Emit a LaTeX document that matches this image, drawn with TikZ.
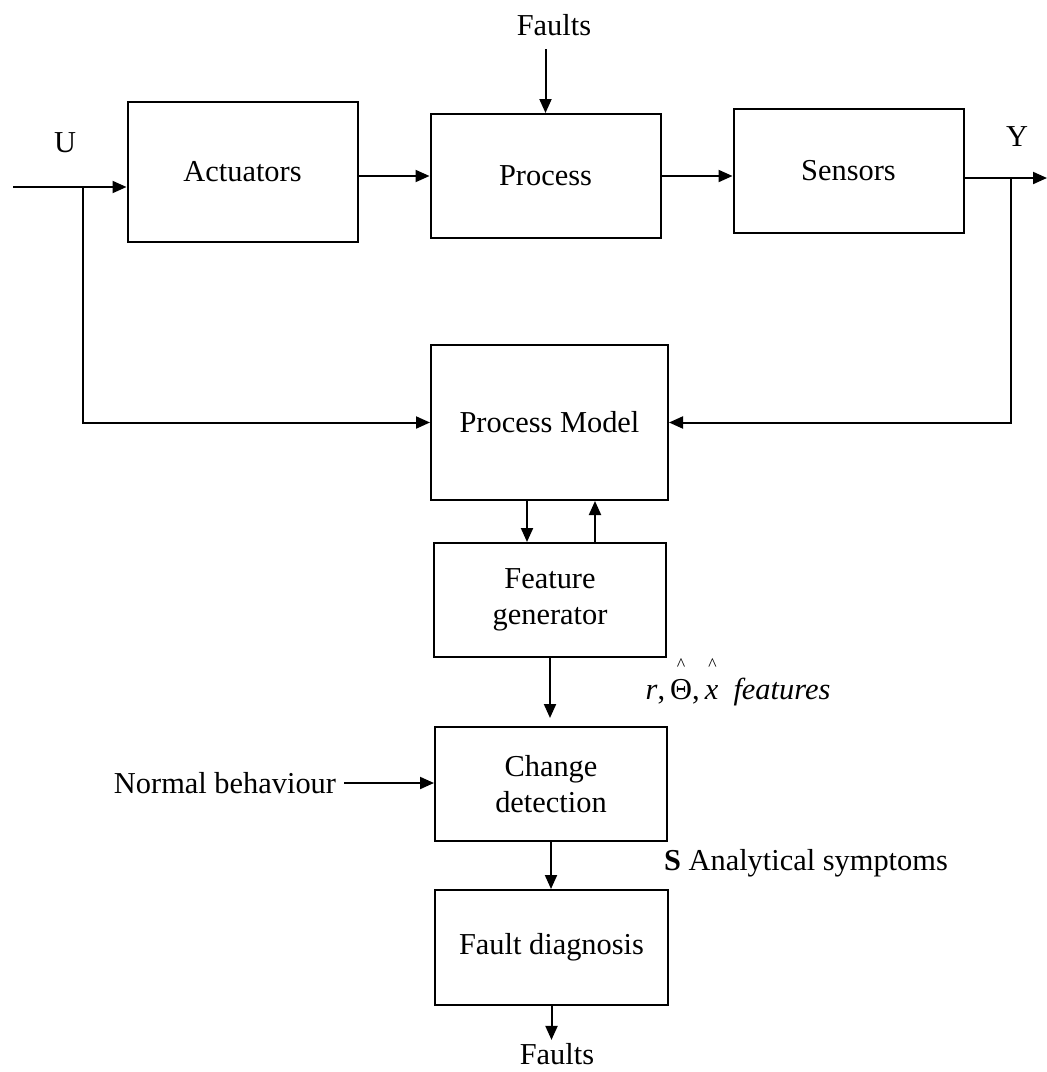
\documentclass[tikz,border=0pt]{standalone}
\usepackage{fontspec}
\setmainfont{Liberation Serif}
\usetikzlibrary{arrows.meta, positioning}
\newcommand{\hatabove}[1]{\ooalign{#1\cr\hidewidth\raisebox{0.95em}{\fontsize{9}{9}\selectfont\textasciicircum}\hidewidth\cr}}
\tikzset{
  blknode/.style={draw=black,line width=1pt,minimum width=115pt,inner sep=2pt,align=center,font=\fontsize{15.2}{18}\selectfont},
  txtnode/.style={inner sep=1.5pt,font=\fontsize{15.2}{18}\selectfont},
  sigedge/.style={-{Triangle[length=7pt,width=6pt]},line width=1pt,black},
  sigline/.style={line width=1pt,black},
}

\begin{document}
\begin{tikzpicture}[x=0.5pt,y=-0.5pt]
  \useasboundingbox (0,0) rectangle (1047,1072);
  % top row
  \node[blknode,minimum height=70pt] (nAct) at (242.5,172) {Actuators};
  \node[blknode,minimum height=62pt] (nProc) at (545.5,176) {Process};
  \node[blknode,minimum height=62pt] (nSens) at (848.5,171) {Sensors};
  % model and detection chain
  \node[blknode,minimum width=118.5pt,minimum height=77.5pt] (nModel) at (549.5,422.5) {Process Model};
  \node[blknode,minimum width=116pt,minimum height=57pt] (nFeat) at (550,600) {Feature\\generator};
  \node[blknode,minimum width=116pt,minimum height=57pt] (nChange) at (551,784) {Change\\detection};
  \node[blknode,minimum width=116.5pt,minimum height=57.5pt] (nDiag) at (551.5,947.5) {Fault diagnosis};
  % labels
  \node[txtnode] (nU) at (65,143) {U};
  \node[txtnode] (nY) at (1017,137) {Y};
  \node[txtnode] (nFaultIn) at (554,25) {Faults};
  \node[txtnode] (nFaultOut) at (557,1054) {Faults};
  \node[txtnode,inner xsep=4pt] (nNormal) at (225,783) {Normal behaviour};
  \node[txtnode] (nFeatLbl) at (738,692) {\textit{r},\,\hatabove{Θ},\,\textit{\hatabove{x}}\ \ \textit{features}};
  \node[txtnode] (nSymLbl) at (806,863) {\textbf{S} Analytical symptoms};
  \coordinate (cIn) at (13,187);
  \coordinate (cUbr) at (83,187);
  \coordinate (cOut) at (1047,178);
  \coordinate (cYbr) at (1011,178);
  % signal flow
  \draw[sigedge] (cIn) -- (cIn -| nAct.west);
  \draw[sigedge] (cUbr) |- (nModel.west);
  \draw[sigedge] (nAct.east |- nProc.west) -- (nProc.west);
  \draw[sigedge] (nProc.east) -- (nProc.east -| nSens.west);
  \draw[sigedge] (cOut -| nSens.east) -- (cOut);
  \draw[sigedge] (cYbr) |- (nModel.east);
  \draw[sigedge,shorten <=5pt] (nProc.north |- nFaultIn.south) -- (nProc.north);
  \draw[sigedge] ([xshift=-11.25pt]nModel.south) -- ([xshift=-11.25pt]nModel.south |- nFeat.north);
  \draw[sigedge] ([xshift=22.5pt]nFeat.north) -- ([xshift=22.5pt]nFeat.north |- nModel.south);
  \draw[sigedge,shorten >=4pt] (nFeat.south) -- (nFeat.south |- nChange.north);
  \draw[sigedge] (nNormal.east) -- (nNormal.east -| nChange.west);
  \draw[sigedge] (nChange.south) -- (nChange.south |- nDiag.north);
  \draw[sigedge] (nDiag.south) -- (nDiag.south |- nFaultOut.north);
\end{tikzpicture}
\end{document}
